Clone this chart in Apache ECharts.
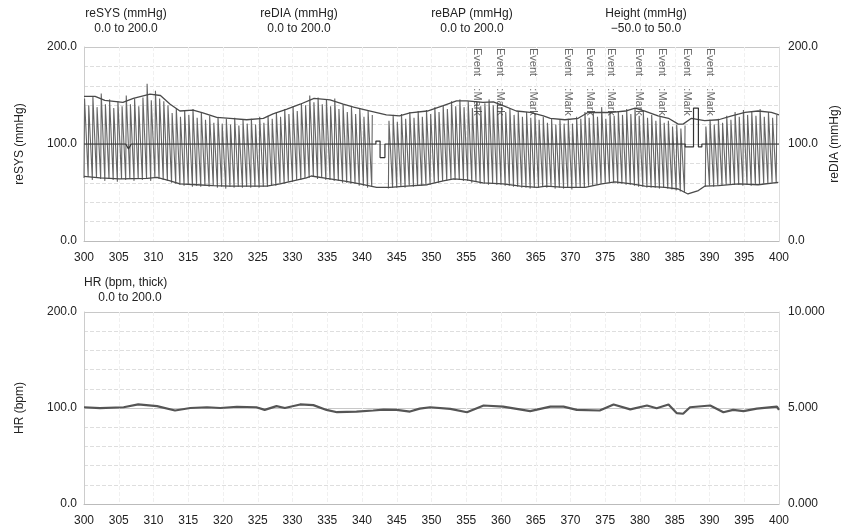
<!DOCTYPE html>
<html>
<head>
<meta charset="utf-8">
<script src="https://cdn.jsdelivr.net/npm/echarts@6/dist/echarts.min.js"></script>
<style>html,body{margin:0;padding:0;background:#fff}#c{width:851px;height:529px}</style>
</head>
<body>
<div id="c"></div>
<script>
// ---------- DATA ----------
const xTicks = [300, 400, 5];           // time axis min, max, step (s)
const headerLabels = [
  ['reSYS (mmHg)', '0.0 to 200.0'],
  ['reDIA (mmHg)', '0.0 to 200.0'],
  ['reBAP (mmHg)', '0.0 to 200.0'],
  ['Height (mmHg)', '\u221250.0 to 50.0']
];
const hrHeader = ['HR (bpm, thick)', '0.0 to 200.0'];

// beat-to-beat pressure waveform: one systolic peak and one diastolic trough per beat
const beatStart = 300, beatPeriod = 0.6;
const beatSys = [
  147,140,149,138,152,141,146,137,144,139,
  150,141,147,139,148,162,145,155,147,144,
  140,132,137,128,135,130,136,127,133,125,
  129,122,128,121,126,120,127,119,125,121,
  126,120,128,122,129,126,133,128,136,131,
  139,134,142,140,150,143,148,141,146,139,
  147,136,141,133,138,131,137,128,134,130,
  null,null,null,124,130,123,131,126,133,127,
  134,128,135,131,138,133,140,136,144,139,
  146,138,144,137,143,139,142,146,140,141,
  138,133,136,130,134,128,133,127,131,125,
  128,122,126,120,125,121,126,121,128,126,
  133,127,132,128,138,126,133,129,134,130,
  136,131,137,129,133,127,130,124,128,122,
  124,118,120,116,119,null,null,null,null,118,
  125,120,126,122,129,125,133,128,135,130,
  134,129,136,128,133,127,130
];
const beatDia = [
  65,66,63,65,64,62,64,63,61,64,
  63,64,62,64,63,64,62,65,64,63,
  62,60,59,58,57,58,56,57,56,57,
  56,57,55,56,54,56,55,56,55,56,
  55,56,55,56,56,57,57,59,59,61,
  61,63,63,65,65,66,64,65,63,63,
  62,62,60,60,59,59,57,57,55,56,
  null,null,null,54,55,55,56,55,57,56,
  57,57,58,58,60,60,62,62,64,63,
  63,62,62,60,61,59,59,58,59,58,
  58,57,57,56,56,55,55,54,55,55,
  56,55,56,54,55,54,55,53,55,55,
  55,57,57,58,59,60,60,60,59,59,
  58,58,57,56,56,55,55,55,54,55,
  54,53,52,51,50,null,null,null,null,56,
  57,56,57,57,58,58,58,58,57,58,
  57,58,58,59,59,60,60
];

// reSYS envelope [time, mmHg]
const reSYS = [[300,149],[301.6,149],[303,145],[305.6,143],[307.1,147],[309.5,151.5],[311,150],[312.4,141],[313.8,134],[315.7,135],[317.1,132],[319.1,127.5],[321,126.5],[323.4,125],[325.8,126.5],[327.2,131],[329.2,136],[331.1,141],[333.1,147],[335.4,145.5],[337.3,141],[338.8,138],[341.2,134],[343.5,130],[345.4,129],[346.9,132],[349.4,134],[351.7,139.5],[353.6,144.5],[355.1,144.5],[357.4,143],[358.9,143.5],[360.3,139.5],[362.2,134],[364.2,132.5],[366.1,129],[367.1,126.5],[369.2,125],[371.1,126.5],[372.5,132.5],[375.9,132.5],[377.9,134],[379.3,137],[380.7,134],[382.6,129],[384.1,126.5],[385.5,120.5],[386.2,120.5],[387.4,126.5],[389.3,124],[391.3,125],[393.2,129],[395.1,132.5],[397,134],[398.9,132.5],[400,130]];
// reDIA envelope [time, mmHg]
const reDIA = [[300,66.7],[302.3,65],[305.1,64],[309.1,64.5],[310.5,65.5],[312.4,62],[313.8,58.8],[316.2,58],[318.6,57],[321,56.5],[326.3,56.5],[328.2,58.8],[330.1,62],[332,65],[332.7,67],[334.9,64.5],[337.3,62],[339.7,58.8],[342.1,55.3],[344,55.3],[346.4,56.5],[349.4,58],[351.7,62],[353.2,64],[355.1,63],[357.4,60],[360.3,58.8],[362.8,56.5],[365.2,55.3],[366.5,56.5],[369.2,55.3],[372.1,55.3],[374.5,58.8],[376.4,61],[378.8,58.8],[380.7,56.5],[383.6,55.3],[385.5,53.6],[386.9,48.5],[388.4,52],[389.3,56.5],[391.3,57],[394.2,58.8],[397,58],[399.9,60.5],[400,60.5]];
// Height trace (−50..50 shown on 0..200 scale, 0 = 100)
const height = [[300,100],[306,100],[306.4,95],[306.8,100],[342,100],[342,103],[342.6,103],[342.6,86],[343.3,86],[343.3,100],[386.5,100],[386.5,97],[387.7,97],[387.7,137],[388.4,137],[388.4,97],[388.9,97],[388.9,100],[400,100]];
// event marks (s)
const events = [356.5, 359.9, 364.6, 369.7, 372.8, 375.9, 379.8, 383.2, 386.7, 390.1];
const eventLabel = 'Event    :Mark';
// heart rate [time, bpm]
const hr = [[300,100.8],[302.3,99.8],[305.7,100.8],[307.8,103.7],[310.5,102],[313.1,97.4],[315.3,100],[317.7,100.8],[319.6,100],[322,101.3],[324.8,100.8],[326,98],[327.7,102],[328.9,100],[331.1,103.7],[333,103],[334.9,98],[336.4,95.6],[339.2,96.3],[341.6,97.4],[343.1,98.4],[345,98],[346.9,96.3],[348.3,99.4],[349.8,100.8],[352.7,99.1],[355.1,95.6],[357.5,102.6],[360.3,101.5],[364.2,96.7],[367.1,101.5],[369,101.5],[370.9,98],[374.2,97.4],[376.2,103.7],[378.6,98.6],[381,102.6],[382.4,99.8],[384.1,103.7],[385.3,94.6],[386.2,94],[387.2,100.8],[390.1,102.6],[392,95.6],[393.4,98],[394.9,96.7],[396.8,99.4],[399.7,101.5],[400,98]];

// ---------- BUILD ----------
const FONT = '"Liberation Sans", Arial, Helvetica, sans-serif';
const wave = [];
for (let i = 0; i < beatSys.length; i++) {
  const t = beatStart + i * beatPeriod;
  if (beatSys[i] == null) { wave.push([t, '-']); continue; }
  wave.push([t, beatDia[i]]);
  wave.push([t + 0.08, beatSys[i]]);
}

const chart = echarts.init(document.getElementById('c'), null, {renderer: 'canvas'});
const gridLeft = 84, gridRight = 72;
const headerX = [126, 299, 472, 646];

const graphics = [];
headerLabels.forEach((h, k) => {
  graphics.push({type: 'text', x: headerX[k], y: 14, style: {text: h[0], align: 'center', verticalAlign: 'middle', font: '12px ' + FONT, fill: '#222'}});
  graphics.push({type: 'text', x: headerX[k], y: 29, style: {text: h[1], align: 'center', verticalAlign: 'middle', font: '12px ' + FONT, fill: '#222'}});
});
graphics.push({type: 'text', x: 84, y: 283, style: {text: hrHeader[0], align: 'left', verticalAlign: 'middle', font: '12px ' + FONT, fill: '#222'}});
graphics.push({type: 'text', x: 130, y: 298, style: {text: hrHeader[1], align: 'center', verticalAlign: 'middle', font: '12px ' + FONT, fill: '#222'}});

const xAxisBase = (gi) => ({
  type: 'value', gridIndex: gi, min: xTicks[0], max: xTicks[1], interval: xTicks[2],
  axisLine: {show: true, lineStyle: {color: '#bbb'}},
  axisTick: {show: false},
  axisLabel: {color: '#222', fontSize: 12, fontFamily: FONT, margin: 11},
  splitLine: {show: true, interval: 0, lineStyle: {color: '#f0f0f0', type: 'dashed'}}
});
const yLeft = (gi, name) => ({
  type: 'value', gridIndex: gi, position: 'left', min: 0, max: 200, interval: 100,
  name: name, nameLocation: 'middle', nameGap: 58, nameRotate: 90,
  nameTextStyle: {color: '#222', fontSize: 12, fontFamily: FONT},
  axisLine: {show: true, lineStyle: {color: '#ccc'}},
  axisTick: {show: false},
  axisLabel: {color: '#222', fontSize: 12, fontFamily: FONT, margin: 7, formatter: v => v.toFixed(1)},
  splitLine: {show: true, lineStyle: {color: '#c8c8c8'}},
  minorTick: {show: false, splitNumber: 5},
  minorSplitLine: {show: true, lineStyle: {color: '#dedede', type: 'dashed'}}
});

const option = {
  animation: false,
  backgroundColor: '#fff',
  graphic: graphics,
  grid: [
    {left: gridLeft, right: gridRight, top: 47, height: 194},
    {left: gridLeft, right: gridRight, top: 312, height: 192}
  ],
  xAxis: [xAxisBase(0), xAxisBase(1)],
  yAxis: [
    yLeft(0, 'reSYS (mmHg)'),
    {type: 'value', gridIndex: 0, position: 'right', min: 0, max: 200, interval: 100,
     name: 'reDIA (mmHg)', nameLocation: 'middle', nameGap: 47, nameRotate: 90,
     nameTextStyle: {color: '#222', fontSize: 12, fontFamily: FONT},
     axisLine: {show: true, lineStyle: {color: '#ddd'}}, axisTick: {show: false},
     axisLabel: {color: '#222', fontSize: 12, fontFamily: FONT, margin: 9, formatter: v => v.toFixed(1)},
     splitLine: {show: false}},
    yLeft(1, 'HR (bpm)'),
    {type: 'value', gridIndex: 1, position: 'right', min: 0, max: 10, interval: 5,
     axisLine: {show: true, lineStyle: {color: '#ddd'}}, axisTick: {show: false},
     axisLabel: {color: '#222', fontSize: 12, fontFamily: FONT, margin: 9, formatter: v => v.toFixed(3)},
     splitLine: {show: false}}
  ],
  series: [
    {name: 'reBAP', type: 'line', xAxisIndex: 0, yAxisIndex: 0, data: wave, symbol: 'none',
     connectNulls: false, lineStyle: {color: '#666', width: 1.1}, z: 2},
    {name: 'reSYS', type: 'line', xAxisIndex: 0, yAxisIndex: 0, data: reSYS, symbol: 'none',
     lineStyle: {color: '#4a4a4a', width: 1.3}, z: 3},
    {name: 'reDIA', type: 'line', xAxisIndex: 0, yAxisIndex: 0, data: reDIA, symbol: 'none',
     lineStyle: {color: '#4a4a4a', width: 1.3}, z: 3},
    {name: 'Height', type: 'line', xAxisIndex: 0, yAxisIndex: 0, data: height, symbol: 'none',
     lineStyle: {color: '#333', width: 1.2}, z: 4},
    {name: 'Events', type: 'scatter', xAxisIndex: 0, yAxisIndex: 0, symbolSize: 0, z: 5,
     data: events.map(t => [t, 199]),
     label: {show: true, position: 'inside', formatter: eventLabel, rotate: -90, align: 'left',
             verticalAlign: 'middle', color: '#3c3c3c', fontSize: 11, fontFamily: FONT}},
    {name: 'HR', type: 'line', xAxisIndex: 1, yAxisIndex: 2, data: hr, symbol: 'none',
     lineStyle: {color: '#555', width: 2.2}, z: 3}
  ]
};
chart.setOption(option);
</script>
</body>
</html>
